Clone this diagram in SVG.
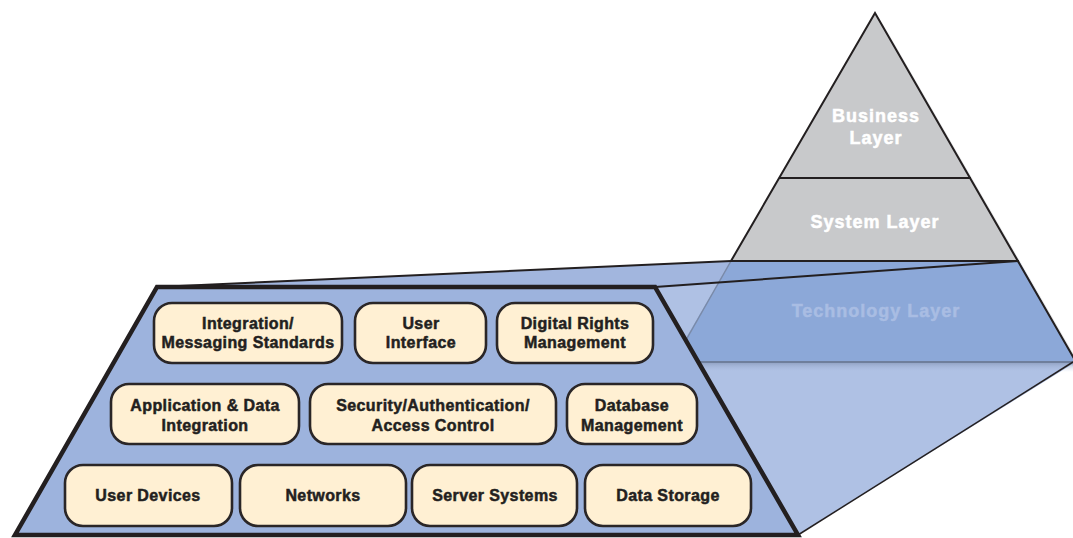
<svg xmlns="http://www.w3.org/2000/svg" width="1073" height="538" viewBox="0 0 1073 538">
<style>
.box{fill:#fff0d3;stroke:#2a2627;stroke-width:2.6}
.bt{font-family:"Liberation Sans",Arial,sans-serif;font-weight:bold;font-size:16px;letter-spacing:0.4px;fill:#231f20;stroke:#231f20;stroke-width:0.5px;text-anchor:middle}
.pt{font-family:"Liberation Sans",Arial,sans-serif;font-weight:bold;font-size:18px;letter-spacing:1px;fill:#ffffff;stroke:#ffffff;stroke-width:0.5px;text-anchor:middle}
.dk{stroke:#231f20;fill:none}
</style>
<defs>
<linearGradient id="sh" x1="0" y1="0" x2="0" y2="1">
<stop offset="0" stop-color="#7f90b0" stop-opacity="0.7"/>
<stop offset="1" stop-color="#afc1e4" stop-opacity="0"/>
</linearGradient>
</defs>
<rect width="1073" height="538" fill="#ffffff"/>
<polygon points="879,17 1080,365 1080,372 1076,372" fill="#e6e7e8"/>
<g id="business-layer">
<polygon points="875,13 971,178 779,178" fill="#c8c9cb"/>
<text class="pt" x="876" y="122">Business</text>
<text class="pt" x="876" y="144">Layer</text>
</g>
<g id="system-layer">
<polygon points="779,178 971,178 1019,261 731,261" fill="#c8c9cb"/>
<text class="pt" x="875" y="228">System Layer</text>
</g>
<polygon id="right-face" points="655,287 1019,261 1076,362 798,535" fill="#afc1e4"/>
<polygon id="top-face" points="157,287 731,261 1019,261 655,287" fill="#a2b6de"/>
<g id="technology-layer">
<polygon points="731,261 1019,261 1076,362 672,362" fill="#8ca8d8"/>
<rect x="698" y="362" width="375" height="10" fill="url(#sh)"/>
<text class="pt" x="876" y="317" style="fill:#a9bde3;stroke:#a9bde3">Technology Layer</text>
</g>
<g id="connectors">
<line x1="731" y1="261" x2="686" y2="340" stroke="#7a8aa8" stroke-width="1.5"/>
<line x1="698" y1="362" x2="1073" y2="362" stroke="#6f7f9c" stroke-width="2"/>
<line class="dk" x1="157" y1="287" x2="731" y2="261" stroke-width="2"/>
<line class="dk" x1="655" y1="287" x2="1019" y2="261" stroke-width="2"/>
<line class="dk" x1="731" y1="261" x2="1019" y2="261" stroke-width="2"/>
<line class="dk" x1="779" y1="178" x2="971" y2="178" stroke-width="2"/>
<polyline class="dk" points="731,261 875,13 1076,362" stroke-width="2"/>
<line class="dk" x1="1073" y1="362" x2="798" y2="535" stroke-width="1.5"/>
</g>
<g id="technology-detail">
<polygon points="157,287 655,287 798,535 15,535" fill="#9db3dd" stroke="#231f20" stroke-width="4.5" stroke-linejoin="miter"/>
</g>
<g id="integration-messaging">
<rect class="box" x="154" y="303" width="188" height="60" rx="18"/>
<text class="bt" x="248" y="329">Integration/</text>
<text class="bt" x="248" y="348">Messaging Standards</text>
</g>
<g id="user-interface">
<rect class="box" x="355" y="303" width="131" height="60" rx="18"/>
<text class="bt" x="421" y="329">User</text>
<text class="bt" x="421" y="348">Interface</text>
</g>
<g id="digital-rights">
<rect class="box" x="497" y="303" width="156" height="60" rx="18"/>
<text class="bt" x="575" y="329">Digital Rights</text>
<text class="bt" x="575" y="348">Management</text>
</g>
<g id="application-data">
<rect class="box" x="111" y="384" width="188" height="60" rx="18"/>
<text class="bt" x="205" y="411">Application &amp; Data</text>
<text class="bt" x="205" y="431">Integration</text>
</g>
<g id="security">
<rect class="box" x="310" y="384" width="246" height="60" rx="18"/>
<text class="bt" x="433" y="411">Security/Authentication/</text>
<text class="bt" x="433" y="431">Access Control</text>
</g>
<g id="database">
<rect class="box" x="567" y="384" width="130" height="60" rx="18"/>
<text class="bt" x="632" y="411">Database</text>
<text class="bt" x="632" y="431">Management</text>
</g>
<g id="user-devices">
<rect class="box" x="65" y="465" width="167" height="61" rx="18"/>
<text class="bt" x="148" y="501">User Devices</text>
</g>
<g id="networks">
<rect class="box" x="240" y="465" width="166" height="61" rx="18"/>
<text class="bt" x="323" y="501">Networks</text>
</g>
<g id="server-systems">
<rect class="box" x="412" y="465" width="165" height="61" rx="18"/>
<text class="bt" x="495" y="501">Server Systems</text>
</g>
<g id="data-storage">
<rect class="box" x="585" y="465" width="166" height="61" rx="18"/>
<text class="bt" x="668" y="501">Data Storage</text>
</g>
</svg>
